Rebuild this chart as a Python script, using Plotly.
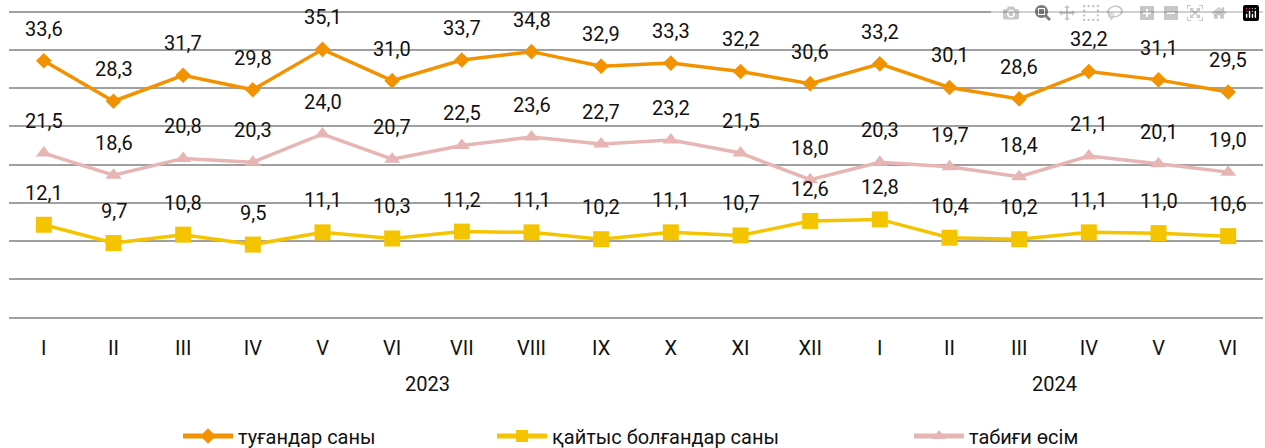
import plotly.graph_objects as go

months = ["I", "II", "III", "IV", "V", "VI", "VII", "VIII", "IX", "X", "XI", "XII",
          "I", "II", "III", "IV", "V", "VI"]
years = ["2023", "2024"]
year_centers = [5.5, 14.5]

births = [33.6, 28.3, 31.7, 29.8, 35.1, 31.0, 33.7, 34.8, 32.9, 33.3, 32.2, 30.6,
          33.2, 30.1, 28.6, 32.2, 31.1, 29.5]
deaths = [12.1, 9.7, 10.8, 9.5, 11.1, 10.3, 11.2, 11.1, 10.2, 11.1, 10.7, 12.6,
          12.8, 10.4, 10.2, 11.1, 11.0, 10.6]
growth = [21.5, 18.6, 20.8, 20.3, 24.0, 20.7, 22.5, 23.6, 22.7, 23.2, 21.5, 18.0,
          20.3, 19.7, 18.4, 21.1, 20.1, 19.0]

names = ["туғандар саны", "қайтыс болғандар саны", "табиғи өсім"]
colors = ["#F39200", "#F5C400", "#E6B5B4"]
symbols = ["diamond", "square", "triangle-up"]
msizes = [12, 16, 14]
legend_ids = ["legend", "legend2", "legend3"]
legend_x = [183, 497, 914]  # pixels where each legend symbol starts

FONT = "Roboto"
TXT = "#111111"
GRID = "#A0A0A0"
x = list(range(len(months)))

W, H = 1265, 448
L, R, T, B = 9, 2, 0, 131
PH = H - T - B
YMAX = PH / 7.625

fig = go.Figure()
series = [births, deaths, growth]
for vals, name, col, sym, ms, lid in zip(series, names, colors, symbols, msizes, legend_ids):
    fig.add_trace(go.Scatter(
        x=x, y=vals, name=name, mode="lines+markers",
        line=dict(color=col, width=3.5),
        marker=dict(symbol=sym, size=ms, color=col),
        legend=lid, hoverinfo="skip",
    ))

annotations = []
for vals in series:
    for i, v in enumerate(vals):
        annotations.append(dict(
            x=i, y=v, xref="x", yref="y", text=f"{v:.1f}".replace(".", ","),
            showarrow=False, yshift=32, font=dict(family=FONT, size=20, color=TXT),
        ))
for yr, xc in zip(years, year_centers):
    annotations.append(dict(
        x=xc, y=(H - B - 384) / PH, xref="x", yref="paper", text=yr, showarrow=False,
        yanchor="middle", font=dict(family=FONT, size=20, color=TXT),
    ))

layout_legends = {}
for lid, lx in zip(legend_ids, legend_x):
    layout_legends[lid] = dict(
        orientation="h", xref="container", yref="container",
        x=(lx - 5) / W, y=1 - 436 / H, xanchor="left", yanchor="middle",
        font=dict(family=FONT, size=20, color=TXT),
        bgcolor="rgba(0,0,0,0)", itemsizing="constant", itemwidth=50,
    )

fig.update_layout(
    width=W, height=H,
    margin=dict(l=L, r=R, t=T, b=B),
    paper_bgcolor="white", plot_bgcolor="white",
    font=dict(family=FONT, size=20, color=TXT),
    xaxis=dict(range=[-0.5, len(months) - 0.5], tickmode="array", tickvals=x, ticktext=months,
               showgrid=False, zeroline=False, showline=True,
               linecolor=GRID, linewidth=1.5, ticks="",
               tickfont=dict(family=FONT, size=20, color=TXT), ticklabelstandoff=12),
    yaxis=dict(range=[0, YMAX], tickmode="array", tickvals=[0, 5, 10, 15, 20, 25, 30, 35, 40],
               showticklabels=False, showgrid=True,
               gridcolor=GRID, gridwidth=1.5, zeroline=False, showline=False),
    annotations=annotations,
    showlegend=True,
    **layout_legends,
)

fig.write_html("out.html", post_script="document.body.style.margin='0px';")
